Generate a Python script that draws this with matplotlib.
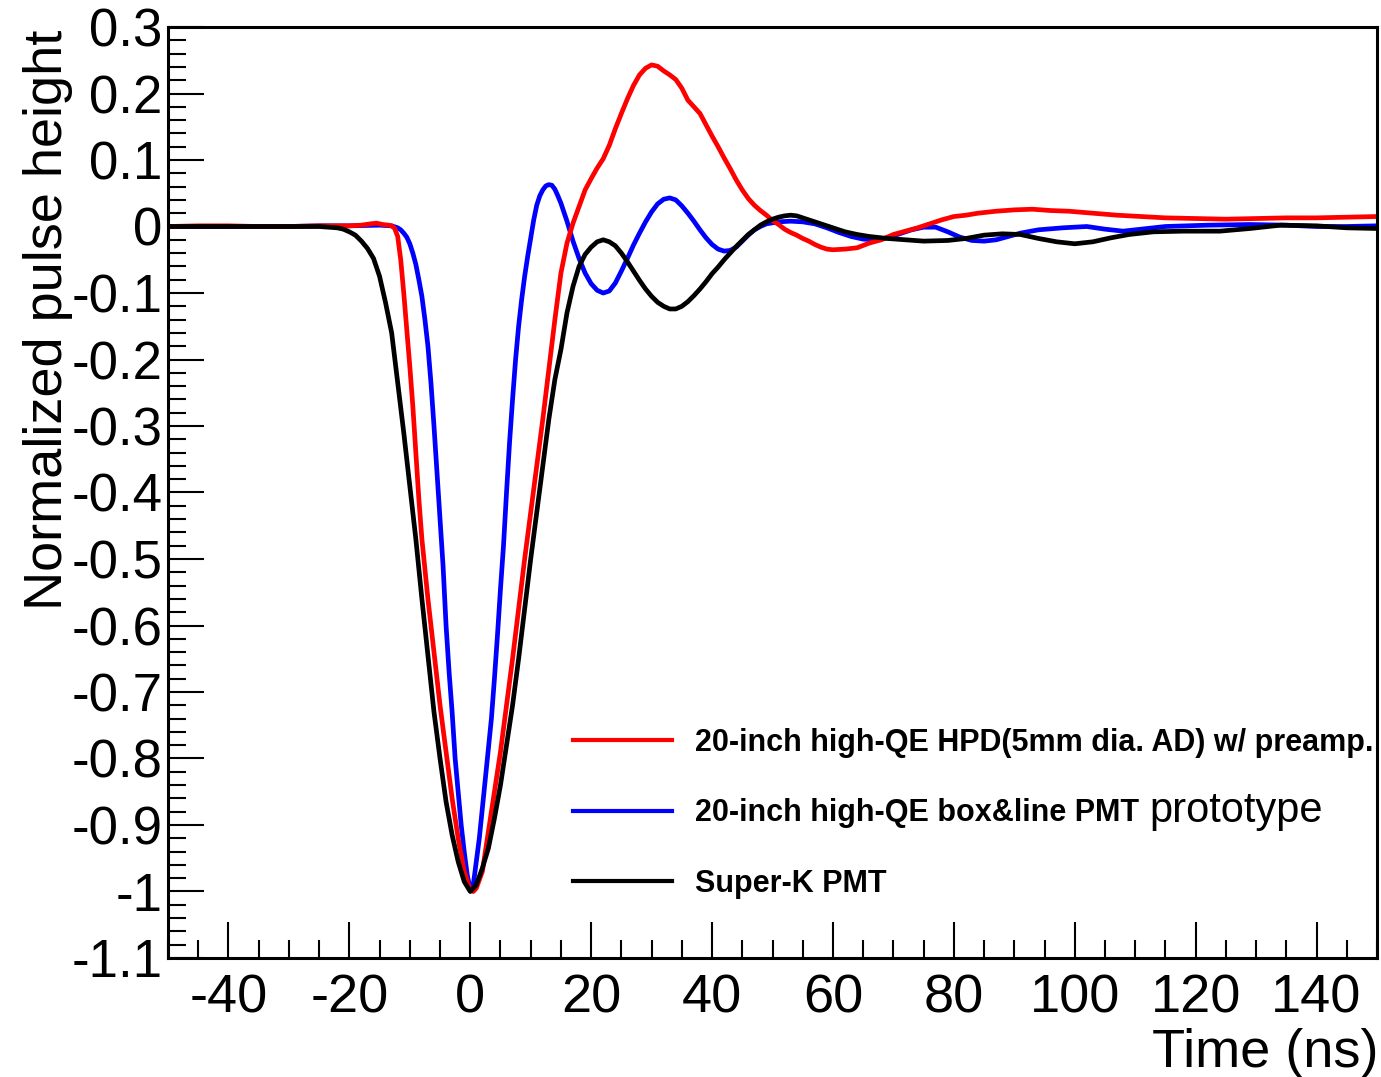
import matplotlib
matplotlib.use("Agg")
import matplotlib.pyplot as plt
from matplotlib.ticker import MultipleLocator
from matplotlib.font_manager import FontProperties

plt.rcParams['font.family'] = ['Liberation Sans', 'DejaVu Sans']
plt.rcParams['axes.unicode_minus'] = False

# ---------------- data ----------------
t_superk = [-50, -40, -30, -25, -22, -21, -20, -19, -18, -17, -16, -15, -14, -13, -12,
            -11, -10, -9, -8, -7, -6, -5, -4, -3, -2, -1, 0, 1, 2, 3, 4, 5, 6, 7, 8,
            9, 10, 11, 12, 13, 14, 15, 16, 17, 18, 19, 20, 21, 22, 23, 24, 25, 26, 27,
            28, 29, 30, 31, 32, 33, 34, 35, 36, 37, 38, 39, 40, 41, 42, 43, 44, 45, 46,
            47, 48, 49, 50, 51, 52, 53, 54, 55, 56, 58, 60, 62, 64, 66, 69, 72, 75, 79,
            82, 85, 88, 91, 94, 97, 100, 103, 106, 109, 113, 118, 124, 129, 134, 140,
            145, 150]
v_superk = [0, 0, 0, 0, -0.002, -0.004, -0.008, -0.013, -0.022, -0.033, -0.048, -0.075,
            -0.115, -0.16, -0.235, -0.31, -0.39, -0.47, -0.56, -0.645, -0.73, -0.80,
            -0.865, -0.915, -0.955, -0.985, -1.0, -0.99, -0.965, -0.935, -0.89, -0.84,
            -0.78, -0.72, -0.65, -0.575, -0.50, -0.43, -0.36, -0.29, -0.23, -0.185,
            -0.13, -0.09, -0.06, -0.042, -0.031, -0.023, -0.02, -0.023, -0.029, -0.04,
            -0.053, -0.067, -0.081, -0.094, -0.105, -0.114, -0.12, -0.124, -0.124,
            -0.12, -0.113, -0.104, -0.094, -0.083, -0.071, -0.061, -0.05, -0.04, -0.03,
            -0.021, -0.012, -0.005, 0.002, 0.007, 0.011, 0.014, 0.016, 0.017, 0.016,
            0.013, 0.01, 0.004, -0.002, -0.008, -0.012, -0.015, -0.018, -0.02, -0.022,
            -0.021, -0.018, -0.013, -0.011, -0.012, -0.018, -0.023, -0.026, -0.023,
            -0.017, -0.012, -0.008, -0.007, -0.007, -0.003, 0.002, 0.001, -0.002, -0.003]

t_hpd = [-50, -45, -40, -35, -30, -25, -20, -18, -16.5, -15.5, -14.5, -13.5, -13, -12.5,
         -12, -11.5, -11, -10.5, -10, -9.5, -9, -8.5, -8, -7, -6, -5, -4, -3, -2, -1, 0,
         0.5, 1, 2, 3, 4, 5, 6, 7, 8, 9, 10, 11, 12, 13, 14, 15, 16, 17, 18, 19, 20, 21,
         22, 23, 24, 25, 26, 27, 28, 29, 30, 31, 32, 33, 34, 35, 36, 37, 38, 39, 40, 41,
         42, 43, 44, 45, 46, 47, 48, 49, 50, 51, 52, 53, 54, 55, 56, 57, 58, 59, 60, 62,
         64, 66, 68, 70, 72, 74, 76, 78, 80, 82, 84, 87, 90, 93, 96, 99, 103, 107, 111,
         115, 120, 125, 130, 135, 140, 145, 150]
v_hpd = [0, 0.001, 0.001, 0, 0.0, 0.001, 0.001, 0.002, 0.004, 0.005, 0.003, 0.002,
         0.001, -0.003, -0.015, -0.05, -0.10, -0.155, -0.21, -0.27, -0.34, -0.41, -0.47,
         -0.56, -0.64, -0.72, -0.79, -0.86, -0.92, -0.97, -0.998, -1.0, -0.995, -0.97,
         -0.91, -0.85, -0.79, -0.72, -0.65, -0.575, -0.50, -0.43, -0.36, -0.29, -0.215,
         -0.14, -0.07, -0.025, 0.005, 0.03, 0.055, 0.072, 0.088, 0.102, 0.122, 0.147,
         0.17, 0.192, 0.212, 0.228, 0.238, 0.243, 0.241, 0.234, 0.228, 0.221, 0.208,
         0.19, 0.18, 0.17, 0.153, 0.136, 0.12, 0.103, 0.087, 0.07, 0.055, 0.042, 0.032,
         0.024, 0.017, 0.009, 0.003, -0.004, -0.009, -0.013, -0.018, -0.022, -0.027,
         -0.031, -0.034, -0.035, -0.034, -0.032, -0.025, -0.02, -0.012, -0.007, -0.002,
         0.004, 0.01, 0.015, 0.017, 0.02, 0.023, 0.025, 0.026, 0.024, 0.023, 0.02, 0.017,
         0.015, 0.013, 0.012, 0.011, 0.012, 0.013, 0.013, 0.014, 0.015]

t_box = [-50, -40, -30, -25, -20, -15, -13, -12, -11.5, -11, -10.5, -10, -9.5, -9, -8.5,
         -8, -7.5, -7, -6.5, -6, -5.5, -5, -4.5, -4, -3.5, -3, -2.5, -2, -1.5, -1, -0.5,
         0, 0.5, 1, 1.5, 2, 2.5, 3, 3.5, 4, 4.5, 5, 5.5, 6, 6.5, 7, 7.5, 8, 8.5, 9, 9.5,
         10, 10.5, 11, 11.5, 12, 12.5, 13, 13.5, 14, 14.5, 15, 16, 17, 18, 19, 20, 21, 22,
         23, 24, 25, 26, 27, 28, 29, 30, 31, 32, 33, 34, 35, 36, 37, 38, 39, 40, 41, 42,
         43, 44, 45, 46, 47, 48, 49, 51, 53, 55, 57, 59, 61, 63, 65, 67, 69, 71, 73, 75,
         77, 79, 81, 83, 85, 87, 89, 91, 94, 98, 102, 105, 108, 111, 115, 122, 129, 135,
         140, 145, 150]
v_box = [0, 0, 0, 0.001, 0.001, 0.002, 0.001, -0.002, -0.005, -0.01, -0.016, -0.026,
         -0.04, -0.057, -0.08, -0.105, -0.14, -0.18, -0.235, -0.30, -0.37, -0.44, -0.51,
         -0.60, -0.67, -0.73, -0.80, -0.85, -0.90, -0.94, -0.975, -0.997, -0.99, -0.955,
         -0.92, -0.875, -0.83, -0.785, -0.74, -0.68, -0.615, -0.545, -0.48, -0.40,
         -0.325, -0.26, -0.20, -0.15, -0.11, -0.075, -0.045, -0.018, 0.01, 0.032, 0.046,
         0.055, 0.061, 0.063, 0.062, 0.056, 0.046, 0.035, 0.008, -0.022, -0.048, -0.07,
         -0.086, -0.096, -0.10, -0.097, -0.085, -0.067, -0.048, -0.028, -0.01, 0.007,
         0.022, 0.034, 0.041, 0.043, 0.04, 0.031, 0.02, 0.008, -0.005, -0.017, -0.027,
         -0.034, -0.037, -0.036, -0.031, -0.022, -0.013, -0.005, 0.0, 0.004, 0.007,
         0.008, 0.007, 0.004, -0.002, -0.009, -0.015, -0.019, -0.02, -0.017, -0.011,
         -0.005, -0.001, -0.001, -0.008, -0.016, -0.021, -0.022, -0.02, -0.015, -0.01,
         -0.005, -0.002, 0.0, -0.004, -0.007, -0.004, 0.0, 0.002, 0.003, 0.002, 0.0, 0.0,
         0.001]

labels = ["20-inch high-QE HPD(5mm dia. AD) w/ preamp.",
          "20-inch high-QE box&line PMT",
          "Super-K PMT"]
extra_label = "prototype"

x_ticks = [-40, -20, 0, 20, 40, 60, 80, 100, 120, 140]
y_ticks = [0.3, 0.2, 0.1, 0, -0.1, -0.2, -0.3, -0.4, -0.5, -0.6, -0.7, -0.8, -0.9, -1, -1.1]
y_tick_labels = ["0.3", "0.2", "0.1", "0", "-0.1", "-0.2", "-0.3", "-0.4", "-0.5",
                 "-0.6", "-0.7", "-0.8", "-0.9", "-1", "-1.1"]

# ---------------- figure ----------------
W, H = 1381, 1077
fig = plt.figure(figsize=(W / 100, H / 100), dpi=100)
L, R, T, B = 168, 1377, 27, 958
ax = fig.add_axes([L / W, 1 - B / H, (R - L) / W, (B - T) / H])

lw = 3.4
lb, = ax.plot(t_box, v_box, color='#0000ff', lw=lw, solid_joinstyle='round')
lr, = ax.plot(t_hpd, v_hpd, color='#ff0000', lw=lw, solid_joinstyle='round')
lk, = ax.plot(t_superk, v_superk, color='black', lw=lw, solid_joinstyle='round')

ax.set_xlim(-50, 150)
ax.set_ylim(-1.1, 0.3)
ax.set_xticks(x_ticks)
ax.set_xticklabels([str(v) for v in x_ticks])
ax.set_yticks(y_ticks)
ax.set_yticklabels(y_tick_labels)
ax.xaxis.set_minor_locator(MultipleLocator(5))
ax.yaxis.set_minor_locator(MultipleLocator(0.02))
ax.tick_params(which='both', direction='in', top=False, right=False, width=1.5, color='black')
ax.tick_params(which='major', length=26)
ax.tick_params(which='minor', length=13)
ax.tick_params(axis='y', which='major', labelsize=38, pad=4)
ax.tick_params(axis='x', which='major', labelsize=39, pad=11)
for s in ax.spines.values():
    s.set_linewidth(2.2)

fig.text(1378 / W, 1 - 1067 / H, "Time (ns)", ha='right', va='baseline', fontsize=39)
fig.text(62 / W, 1 - 30 / H, "Normalized pulse height", rotation=90,
         rotation_mode='anchor', ha='right', va='baseline', fontsize=39)

leg = ax.legend([lr, lb, lk], labels, loc='upper left',
                bbox_to_anchor=((573 - L) / (R - L), (B - 728) / (B - T)),
                frameon=False, prop=FontProperties(family='Liberation Sans', weight='bold', size=22),
                handlelength=3.25, handletextpad=0.75, labelspacing=1.32,
                borderpad=0, borderaxespad=0)
for h in leg.get_lines():
    h.set_linewidth(3.0)

fig.canvas.draw()
bb = leg.get_texts()[1].get_window_extent()
fig.text((bb.x1 + 10) / W, (bb.y0 - 3) / H, extra_label, ha='left', va='bottom', fontsize=30)

fig.savefig("out.png", dpi=100)
